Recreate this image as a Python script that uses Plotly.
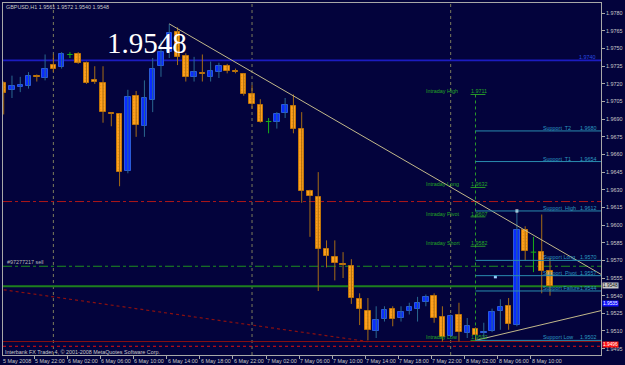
import plotly.graph_objects as go
import pandas as pd

# ---------------- data ----------------
symbol = "GBPUSD,H1"
times = pd.date_range("2008-05-05 18:00", periods=67, freq="h")

opens = [1.9721, 1.9715, 1.9717, 1.9718, 1.9727, 1.9725, 1.9736, 1.9734, 1.9745, 1.9745,
         1.9738, 1.9723, 1.9721, 1.9695, 1.9694, 1.9646, 1.9710, 1.9684, 1.9706, 1.9735,
         1.9747, 1.9764, 1.9744, 1.9726, 1.9729, 1.9726, 1.9730, 1.9735, 1.9731, 1.9728,
         1.9711, 1.9702, 1.9688, 1.9688, 1.9695, 1.9701, 1.9682, 1.9629, 1.9624, 1.9580,
         1.9573, 1.9567, 1.9565, 1.9537, 1.9527, 1.9510, 1.9520, 1.9529, 1.9521, 1.9527,
         1.9529, 1.9535, 1.9540, 1.9522, 1.9506, 1.9524, 1.9508, 1.9512, 1.9508, 1.9510,
         1.9527, 1.9531, 1.9515, 1.9596, 1.9577, 1.9577, 1.9561]
highs = [1.9722, 1.9727, 1.9726, 1.9730, 1.9728, 1.9745, 1.9745, 1.9747, 1.9747, 1.9747,
         1.9739, 1.9735, 1.9735, 1.9696, 1.9695, 1.9715, 1.9714, 1.9723, 1.9742, 1.9757,
         1.9771, 1.9768, 1.9746, 1.9743, 1.9745, 1.9739, 1.9738, 1.9737, 1.9733, 1.9729,
         1.9719, 1.9707, 1.9691, 1.9696, 1.9708, 1.9711, 1.9696, 1.9630, 1.9645, 1.9587,
         1.9587, 1.9577, 1.9571, 1.9542, 1.9538, 1.9531, 1.9531, 1.9531, 1.9531, 1.9534,
         1.9539, 1.9541, 1.9542, 1.9531, 1.9524, 1.9534, 1.9521, 1.9513, 1.9517, 1.9529,
         1.9537, 1.9538, 1.9612, 1.9599, 1.9590, 1.9609, 1.9572]
lows = [1.9694, 1.9708, 1.9713, 1.9716, 1.9722, 1.9723, 1.9730, 1.9733, 1.9742, 1.9737,
        1.9720, 1.9720, 1.9687, 1.9684, 1.9633, 1.9644, 1.9675, 1.9675, 1.9696, 1.9726,
        1.9742, 1.9736, 1.9722, 1.9722, 1.9722, 1.9722, 1.9725, 1.9729, 1.9729, 1.9710,
        1.9699, 1.9687, 1.9678, 1.9682, 1.9691, 1.9678, 1.9619, 1.9590, 1.9544, 1.9564,
        1.9553, 1.9555, 1.9533, 1.9515, 1.9502, 1.9504, 1.9518, 1.9514, 1.9518, 1.9524,
        1.9518, 1.9531, 1.9517, 1.9501, 1.9505, 1.9501, 1.9504, 1.9502, 1.9503, 1.9509,
        1.9511, 1.9511, 1.9514, 1.9570, 1.9560, 1.9542, 1.9540]
closes = [1.9712, 1.9718, 1.9719, 1.9727, 1.9726, 1.9733, 1.9733, 1.9745, 1.9745, 1.9738,
          1.9721, 1.9722, 1.9696, 1.9694, 1.9645, 1.9709, 1.9685, 1.9708, 1.9733, 1.9747,
          1.9763, 1.9743, 1.9726, 1.9730, 1.9728, 1.9731, 1.9735, 1.9731, 1.9730, 1.9711,
          1.9703, 1.9688, 1.9688, 1.9694, 1.9702, 1.9682, 1.9629, 1.9625, 1.9580, 1.9574,
          1.9568, 1.9566, 1.9538, 1.9529, 1.9511, 1.9519, 1.9528, 1.9520, 1.9526, 1.9530,
          1.9534, 1.9539, 1.9521, 1.9505, 1.9523, 1.9509, 1.9514, 1.9507, 1.9509, 1.9526,
          1.9530, 1.9516, 1.9596, 1.9578, 1.9577, 1.9561, 1.9548]

price_ticks = [1.9780 - 0.0015 * k for k in range(20)]

blue_line = 1.9740
blue_line_label = "1.9740"
stop_line = 1.9620
order_line = 1.9565
order_label = "#97277217 sell"
tp_line_a = 1.9501
tp_line_b = 1.9497
tp_label = "1.9496"
blue_box_price = 1.9535
blue_box_label = "1.9535"

intraday_names = ["Intraday High", "Intraday Long", "Intraday Pivot", "Intraday Short", "Intraday Low"]
intraday_values = [1.9711, 1.9632, 1.9607, 1.9582, 1.9502]
support_names = ["Support  T2", "Support  T1", "Support  High", "Support Long",
                 "Support  Pivot", "Support Failure", "Support Low"]
support_values = [1.9680, 1.9654, 1.9612, 1.9570, 1.9557, 1.9544, 1.9502]
level_bar = 57

upper_trend_bars = [20, 57]
upper_trend_prices = [1.9771, 1.9620]
lower_trend_bars = [57, 66]
lower_trend_prices = [1.9502, 1.9517]
red_trend_bars = [0, 44]
red_trend_prices = [1.9545, 1.9501]
arrow_bars = [59.4, 62]
arrow_prices = [1.9556, 1.9612]

copyright_text = "Interbank FX Trader 4, \u00a9 2001-2008 MetaQuotes Software Corp."

# ---------------- style ----------------
BG = "#03033c"
FRAME = "#a8a8a8"
TXT = "#c8c8c8"
FONT = "Liberation Sans"
X_RANGE = [-0.084, 72.16]
Y_RANGE = [1.948958, 1.978875]
BODY_W = 0.66
MIN_H = 0.00009


def px(xp):
    return (xp - 2) / 602.0


def py(yp):
    return (355 - yp) / 352.0


fig = go.Figure()
idx = list(range(len(opens)))

# wicks
groups = {"bull": ([], []), "bear": ([], []), "doji": ([], [])}
for i in idx:
    o, h, l, c = opens[i], highs[i], lows[i], closes[i]
    g = "bull" if c > o else ("bear" if c < o else "doji")
    groups[g][0].extend([i, i, None])
    groups[g][1].extend([l, h, None])
wick_col = {"bull": "#2a6890", "bear": "#a66c14", "doji": "#18b018"}
for g, (xs, ys) in groups.items():
    fig.add_trace(go.Scatter(x=xs, y=ys, mode="lines", line=dict(color=wick_col[g], width=1),
                             hoverinfo="skip", showlegend=False))

# bodies
bull = [i for i in idx if closes[i] > opens[i]]
bear = [i for i in idx if closes[i] < opens[i]]
doji = [i for i in idx if closes[i] == opens[i]]
fig.add_trace(go.Bar(
    x=bull, base=[opens[i] for i in bull],
    y=[max(closes[i] - opens[i], MIN_H) for i in bull], width=BODY_W,
    marker=dict(color="#0a2cff", line=dict(color="#2a5ad8", width=1)),
    showlegend=False, hoverinfo="skip"))
fig.add_trace(go.Bar(
    x=bear, base=[closes[i] for i in bear],
    y=[max(opens[i] - closes[i], MIN_H) for i in bear], width=BODY_W,
    marker=dict(color="#ffa01c", line=dict(color="#c07408", width=1),
                pattern=dict(shape=".", fgcolor="#d98508", bgcolor="#ffa01c", size=3, solidity=0.25)),
    showlegend=False, hoverinfo="skip"))
dx, dy = [], []
for i in doji:
    dx.extend([i - BODY_W / 2, i + BODY_W / 2, None])
    dy.extend([opens[i], opens[i], None])
fig.add_trace(go.Scatter(x=dx, y=dy, mode="lines", line=dict(color="#18b018", width=1),
                         hoverinfo="skip", showlegend=False))


# trendlines (rays extended using anchor slope)
def ray(xs, ys, x_end):
    slope = (ys[1] - ys[0]) / (xs[1] - xs[0])
    return [xs[0], x_end], [ys[0], ys[0] + slope * (x_end - xs[0])]


ux, uy = ray(upper_trend_bars, upper_trend_prices, 80)
fig.add_trace(go.Scatter(x=ux, y=uy, mode="lines", line=dict(color="#c2b88a", width=1),
                         hoverinfo="skip", showlegend=False))
lx, ly = ray(lower_trend_bars, lower_trend_prices, 80)
fig.add_trace(go.Scatter(x=lx, y=ly, mode="lines", line=dict(color="#c2b88a", width=1),
                         hoverinfo="skip", showlegend=False))
fig.add_trace(go.Scatter(x=red_trend_bars, y=red_trend_prices, mode="lines",
                         line=dict(color="#8a1010", width=1.2, dash="dot"),
                         hoverinfo="skip", showlegend=False))
fig.add_trace(go.Scatter(x=arrow_bars, y=arrow_prices, mode="markers",
                         marker=dict(symbol="square", size=3, color=["#a0d0ff", "#ffffff"]),
                         hoverinfo="skip", showlegend=False))

shapes = []
# period separators
for i in idx:
    if times[i].hour == 0:
        shapes.append(dict(type="line", xref="x", yref="paper", x0=i, x1=i, y0=0, y1=1,
                           line=dict(color="#7c7c5c", width=1, dash="dot"), layer="below"))


def hline(y, color, width=1, dash="solid"):
    shapes.append(dict(type="line", xref="paper", yref="y", x0=0, x1=1, y0=y, y1=y,
                       line=dict(color=color, width=width, dash=dash), layer="below"))


hline(blue_line, "#1c1cc0", 1.6)
hline(stop_line, "#b01818", 1, "dashdot")
hline(order_line, "#1f8f1f", 1, "dashdot")
hline(closes[-1], "#1e801e", 2)
hline(tp_line_a, "#8a1010", 1)
hline(tp_line_b, "#e01010", 1, "dot")

# intraday vertical and underline segments
shapes.append(dict(type="line", xref="x", yref="y", x0=level_bar, x1=level_bar,
                   y0=intraday_values[0], y1=intraday_values[-1],
                   line=dict(color="#2a9a2a", width=1, dash="dot")))
for v in intraday_values:
    shapes.append(dict(type="line", xref="x", yref="y", x0=level_bar - 0.6, x1=level_bar + 1.2,
                       y0=v, y1=v, line=dict(color="#2a9a2a", width=1)))
# support lines
for v in support_values:
    shapes.append(dict(type="line", xref="x", yref="y", x0=level_bar, x1=X_RANGE[1],
                       y0=v, y1=v, line=dict(color="#2a8cb0", width=1)))

annotations = []
SMALL = 5.4


def note(text, x, y, xref="paper", yref="paper", xanchor="left", yanchor="middle",
         color=TXT, size=SMALL, family=FONT, **kw):
    annotations.append(dict(text=text, x=x, y=y, xref=xref, yref=yref, xanchor=xanchor,
                            yanchor=yanchor, showarrow=False,
                            font=dict(color=color, size=size, family=family), **kw))


# header
note(f"{symbol} {opens[-1]:.4f} {highs[-1]:.4f} {lows[-1]:.4f} {closes[-1]:.4f}", px(3), py(7))
# copyright
note(copyright_text, px(2), py(352))
# big price
note(f"{closes[-1]:.4f}", px(147), py(43), xanchor="center", color="#ffffff", size=29,
     family="Liberation Serif")
# order label
note(order_label, px(4), order_line, yref="y", yshift=4, color="#b8b8b8")
# blue line label
note(blue_line_label, 1, blue_line, yref="y", xanchor="right", yshift=3, color="#2a4ae0", xshift=-3)

# intraday labels
for n, v in zip(intraday_names, intraday_values):
    note(n, px(426), v, yref="y", yshift=3, color="#24a824")
    note(f"{v:.4f}", px(471), v, yref="y", yshift=3, color="#24a824")
# support labels
for n, v in zip(support_names, support_values):
    note(n, px(544), v, yref="y", yshift=3, color="#2a9ac0")
    note(f"{v:.4f}", 1, v, yref="y", xanchor="right", xshift=-2, yshift=3, color="#2a9ac0")

# x labels (placed in paper space so the first one at the left edge stays visible)
x_span = X_RANGE[1] - X_RANGE[0]
for i in idx:
    t = times[i]
    if t.hour % 4 == 2:
        lab = f"{t.day} {t.strftime('%b')} {t.year}" if i == 0 else f"{t.day} {t.strftime('%b')} {t.strftime('%H:%M')}"
        xpos = max((i - 0.45 - X_RANGE[0]) / x_span, -0.003)
        note(lab, xpos, 0, yanchor="top", yshift=-1)

# axis boxes
BOX = 4.8
note(f"{closes[-1]:.4f}", 1, closes[-1], yref="y", xshift=1, bgcolor="#c8c8c8", color="#101010",
     borderpad=0, size=BOX, yshift=0.5)
note(blue_box_label, 1, blue_box_price, yref="y", xshift=1, bgcolor="#1010ff", color="#ffffff",
     borderpad=0, size=BOX, yshift=-1.5)
note(tp_label, 1, tp_line_b, yref="y", xshift=1, bgcolor="#ff1010", color="#ffffff", borderpad=0,
     size=BOX, yshift=1.5)

xticks = [i - 0.3 for i in idx if times[i].hour % 4 == 2]

fig.update_layout(
    width=625, height=365,
    margin=dict(l=2, r=21, t=3, b=10),
    paper_bgcolor=BG, plot_bgcolor=BG,
    barmode="overlay", bargap=0,
    showlegend=False,
    shapes=shapes, annotations=annotations,
    xaxis=dict(range=X_RANGE, showgrid=False, zeroline=False, showline=True, mirror=True,
               linecolor=FRAME, linewidth=1, tickvals=xticks, showticklabels=False,
               ticks="outside", ticklen=3, tickcolor=FRAME),
    yaxis=dict(range=Y_RANGE, side="right", showgrid=False, zeroline=False, showline=True,
               mirror=True, linecolor=FRAME, linewidth=1, tickvals=price_ticks,
               ticktext=[f"{v:.4f}" for v in price_ticks], ticks="outside", ticklen=3,
               tickcolor=FRAME, tickfont=dict(color=TXT, size=SMALL, family=FONT)),
)

fig.write_html("out.html")
